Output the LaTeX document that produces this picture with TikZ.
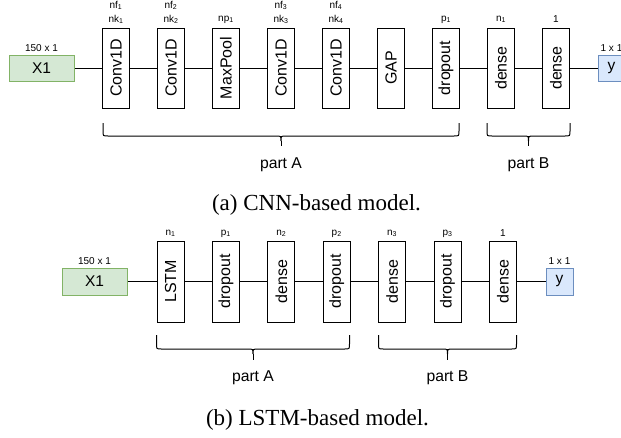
\documentclass[tikz,border=0pt]{standalone}
\usepackage{fontspec}
\setmainfont{Liberation Serif}
\setsansfont{Liberation Sans}
\definecolor{gfill}{HTML}{D5E8D4}
\definecolor{gdraw}{HTML}{82B366}
\definecolor{bfill}{HTML}{DAE8FC}
\definecolor{bdraw}{HTML}{6C8EBF}
\newcommand{\mybrace}[5]{% x1, x2, top, mid, tip
  \pgfmathsetmacro{\bxc}{(#1+#2)/2}
  \draw[bracestyle] (#1,#3) -- (#1,#4-5) .. controls (#1,#4) .. (#1+5,#4)
    -- (\bxc-5,#4) .. controls (\bxc,#4) .. (\bxc,#4+5)
    .. controls (\bxc,#4) .. (\bxc+5,#4) -- (#2-5,#4)
    .. controls (#2,#4) .. (#2,#4-5) -- (#2,#3);
  \draw[bracestyle] (\bxc,#4+5) -- (\bxc,#5);
}
\begin{document}
\begin{tikzpicture}[x=1pt,y=-1pt,
  layer/.style={draw, line width=1pt, minimum width=27pt, minimum height=80pt, inner sep=0pt, font=\sffamily\fontsize{16}{16}\selectfont},
  iobox/.style={draw, line width=1pt, minimum height=26pt, inner sep=0pt, font=\sffamily\fontsize{15.5}{16}\selectfont},
  inbox/.style={iobox, fill=gfill, draw=gdraw, minimum width=65pt},
  outbox/.style={iobox, fill=bfill, draw=bdraw, minimum width=27pt},
  lbl/.style={font=\sffamily\fontsize{10}{10}\selectfont, inner sep=0pt},
  partlbl/.style={font=\sffamily\fontsize{15.7}{16}\selectfont, inner sep=0pt},
  captext/.style={font=\rmfamily\fontsize{23}{24}\selectfont, inner sep=0pt},
  link/.style={line width=1pt},
  bracestyle/.style={line width=1pt}]
\useasboundingbox (0,0) rectangle (621,437);

% ---------- (a) CNN ----------
\node[inbox] (a0) at (41.5,68) {X1};
\node[layer] (a1) at (116,68) {\rotatebox{90}{Conv1D}};
\node[layer] (a2) at (171,68) {\rotatebox{90}{Conv1D}};
\node[layer] (a3) at (226,68) {\rotatebox{90}{MaxPool}};
\node[layer] (a4) at (281,68) {\rotatebox{90}{Conv1D}};
\node[layer] (a5) at (336,68) {\rotatebox{90}{Conv1D}};
\node[layer] (a6) at (391,68) {\rotatebox{90}{GAP}};
\node[layer] (a7) at (446,68) {\rotatebox{90}{dropout}};
\node[layer] (a8) at (501,68) {\rotatebox{90}{dense}};
\node[layer] (a9) at (556,68) {\rotatebox{90}{dense}};
\node[outbox] (a10) at (611.5,68) {y};
\draw[link] (a0) -- (a1) -- (a2) -- (a3) -- (a4) -- (a5) -- (a6) -- (a7) -- (a8) -- (a9) -- (a10);

\node[lbl] (ta0) at ([yshift=6]a0.north) {150 x 1};
\node[lbl] (ta10) at ([yshift=6]a10.north) {1 x 1};
\node[lbl] (ta1) at ([yshift=8]a1.north) {nk\textsubscript{1}};
\node[lbl] (tb1) at ([yshift=22]a1.north) {nf\textsubscript{1}};
\node[lbl] (ta2) at ([yshift=8]a2.north) {nk\textsubscript{2}};
\node[lbl] (tb2) at ([yshift=22]a2.north) {nf\textsubscript{2}};
\node[lbl] (ta3) at ([yshift=8]a3.north) {np\textsubscript{1}};
\node[lbl] (ta4) at ([yshift=8]a4.north) {nk\textsubscript{3}};
\node[lbl] (tb4) at ([yshift=22]a4.north) {nf\textsubscript{3}};
\node[lbl] (ta5) at ([yshift=8]a5.north) {nk\textsubscript{4}};
\node[lbl] (tb5) at ([yshift=22]a5.north) {nf\textsubscript{4}};
\node[lbl] (ta7) at ([yshift=8]a7.north) {p\textsubscript{1}};
\node[lbl] (ta8) at ([yshift=8]a8.north) {n\textsubscript{1}};
\node[lbl] (ta9) at ([yshift=8]a9.north) {1};

\mybrace{103}{459}{123}{136}{146}
\mybrace{487}{570}{123}{136}{146}
\node[partlbl] (pa) at (281,165) {part A};
\node[partlbl] (pb) at (528.5,165) {part B};
\node[captext] (capa) at (316.5,205) {(a) CNN-based model.};

% ---------- (b) LSTM ----------
\node[inbox, minimum height=27pt] (b0) at (94.5,281.5) {X1};
\node[layer, minimum height=81pt] (b1) at (170.5,281.5) {\rotatebox{90}{LSTM}};
\node[layer, minimum height=81pt] (b2) at (225.9,281.5) {\rotatebox{90}{dropout}};
\node[layer, minimum height=81pt] (b3) at (281.3,281.5) {\rotatebox{90}{dense}};
\node[layer, minimum height=81pt] (b4) at (336.7,281.5) {\rotatebox{90}{dropout}};
\node[layer, minimum height=81pt] (b5) at (392.1,281.5) {\rotatebox{90}{dense}};
\node[layer, minimum height=81pt] (b6) at (447.5,281.5) {\rotatebox{90}{dropout}};
\node[layer, minimum height=81pt] (b7) at (502.9,281.5) {\rotatebox{90}{dense}};
\node[outbox, minimum height=27pt] (b8) at (559.5,281.5) {y};
\draw[link] (b0) -- (b1) -- (b2) -- (b3) -- (b4) -- (b5) -- (b6) -- (b7) -- (b8);

\node[lbl] (tc0) at ([yshift=6]b0.north) {150 x 1};
\node[lbl] (tc8) at ([yshift=6]b8.north) {1 x 1};
\node[lbl] (tc1) at ([yshift=7]b1.north) {n\textsubscript{1}};
\node[lbl] (tc2) at ([yshift=7]b2.north) {p\textsubscript{1}};
\node[lbl] (tc3) at ([yshift=7]b3.north) {n\textsubscript{2}};
\node[lbl] (tc4) at ([yshift=7]b4.north) {p\textsubscript{2}};
\node[lbl] (tc5) at ([yshift=7]b5.north) {n\textsubscript{3}};
\node[lbl] (tc6) at ([yshift=7]b6.north) {p\textsubscript{3}};
\node[lbl] (tc7) at ([yshift=7]b7.north) {1};

\mybrace{156.5}{349.5}{335}{349}{360}
\mybrace{378.5}{516.5}{335}{349}{360}
\node[partlbl] (pc) at (253,378) {part A};
\node[partlbl] (pd) at (447.5,378) {part B};
\node[captext] (capb) at (317.5,420) {(b) LSTM-based model.};
\end{tikzpicture}
\end{document}
